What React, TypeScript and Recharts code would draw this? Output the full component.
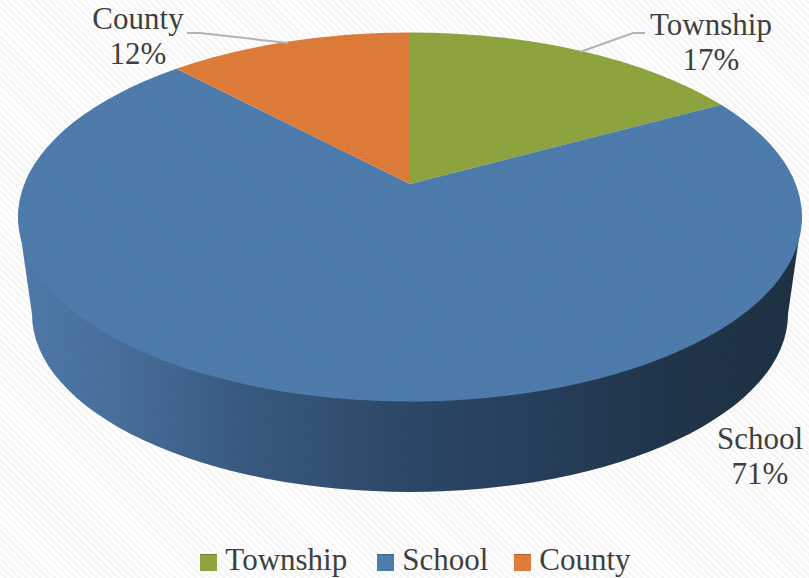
import { PieChart, Pie, Legend } from 'recharts';

const categories = ['Township', 'School', 'County'];
const shares = [17, 71, 12];
const colors = ['#8ea53f', '#4e7cad', '#df7c3a'];
const edgeColors = ['#6f8232', '#3c6087', '#b0622e'];

const W = 809;
const H = 578;
const FONT = '"Liberation Serif", serif';
const TEXT = '#3f3f3f';

// top face ellipse, and how far the apex sits above its middle (perspective)
const CX = 410;
const CY = 217;
const RX = 392;
const RY = 184.5;
const TILT = 0.179;

// bottom rim of the wall
const BOTTOM_CY = 314;
const BOTTOM_RX = 378;
const BOTTOM_RY = 178;

const wallStops = [
  { at: 0, color: '#4f7bab' },
  { at: 0.12, color: '#48709c' },
  { at: 0.3, color: '#38597f' },
  { at: 0.5, color: '#2c4868' },
  { at: 0.68, color: '#263e5a' },
  { at: 0.85, color: '#203448' },
  { at: 1, color: '#1f3245' },
];

const labelSpots = [
  { x: 711, y: 35, line: '580,52 633,33 645,33' },
  { x: 760, y: 449, line: '' },
  { x: 138, y: 29, line: '187,33 200,33 288,43' },
];

const legendGaps = [30, 26, 0];

const table = categories.map((name, i) => ({
  name,
  value: shares[i],
  fill: colors[i],
}));

// circle angle -> point on the tilted ellipse
function project(deg: number) {
  const a = (deg * Math.PI) / 180;
  const X = Math.cos(a);
  const Y = Math.sin(a);
  const d = 1 + TILT * Y;
  const px = (X * Math.sqrt(1 - TILT * TILT)) / d;
  const py = (Y + TILT) / d;
  return { x: CX + RX * px, y: CY - RY * py, angle: Math.atan2(py, px) };
}

function TiltedSector(props: any) {
  const { startAngle, endAngle, fill, name } = props;
  const p1 = project(startAngle);
  const p2 = project(endAngle);
  const apexY = CY - RY * TILT;
  let sweep = p1.angle - p2.angle;
  while (sweep < 0) sweep += Math.PI * 2;
  const large = sweep > Math.PI ? 1 : 0;
  const top = `M${CX},${apexY} L${p1.x},${p1.y} A${RX},${RY} 0 ${large} 1 ${p2.x},${p2.y} Z`;
  const wall =
    `M${CX - RX},${CY} L${CX - BOTTOM_RX},${BOTTOM_CY} ` +
    `A${BOTTOM_RX},${BOTTOM_RY} 0 0 0 ${CX + BOTTOM_RX},${BOTTOM_CY} L${CX + RX},${CY} Z`;
  return (
    <g>
      {name === 'School' && (
        <>
          <path d={wall} fill="url(#wallShade)" />
          <path d={wall} fill="url(#weave)" />
        </>
      )}
      <path d={top} fill={fill} />
      <path d={top} fill="url(#weave)" />
    </g>
  );
}

function renderLabel(props: any) {
  const { name, value } = props;
  const spot = labelSpots[categories.indexOf(name)];
  return (
    <g>
      {spot.line && (
        <polyline points={spot.line} fill="none" stroke="#b3b3b3" strokeWidth={2} />
      )}
      <text
        x={spot.x}
        y={spot.y}
        textAnchor="middle"
        fontFamily={FONT}
        fontSize={31}
        fill={TEXT}
      >
        {name}
      </text>
      <text
        x={spot.x}
        y={spot.y + 35}
        textAnchor="middle"
        fontFamily={FONT}
        fontSize={31}
        fill={TEXT}
      >
        {value}%
      </text>
    </g>
  );
}

function LegendRow({ payload }: any) {
  return (
    <div
      style={{
        display: 'flex',
        justifyContent: 'center',
        fontFamily: FONT,
        paddingLeft: 22,
      }}
    >
      {(payload ?? []).map((item: any, i: number) => (
        <div
          key={item.value}
          style={{
            display: 'flex',
            alignItems: 'center',
            marginRight: legendGaps[i],
            fontSize: 31,
            lineHeight: '36px',
            color: TEXT,
          }}
        >
          <span
            style={{
              width: 17,
              height: 16,
              marginRight: 8,
              marginTop: 5,
              background: item.color,
              borderTop: `1px solid ${edgeColors[categories.indexOf(item.value)]}`,
            }}
          />
          {item.value}
        </div>
      ))}
    </div>
  );
}

export default function App() {
  return (
    <div
      style={{
        position: 'absolute',
        left: 0,
        top: 0,
        width: W,
        height: H,
        background:
          'repeating-linear-gradient(45deg, #ffffff 0px, #ffffff 2.5px, #f6f6f6 2.5px, #f6f6f6 5px)',
      }}
    >
      <PieChart width={W} height={H} margin={{ top: 0, right: 0, bottom: 0, left: 0 }}>
        <defs>
          <linearGradient id="wallShade" x1="0" y1="0" x2="1" y2="0">
            {wallStops.map((s) => (
              <stop key={s.at} offset={s.at} stopColor={s.color} />
            ))}
          </linearGradient>
          <pattern
            id="weave"
            width="6"
            height="3"
            patternUnits="userSpaceOnUse"
            patternTransform="rotate(-8)"
          >
            <rect width="6" height="1" fill="#000000" fillOpacity={0.035} />
          </pattern>
        </defs>
        <Pie
          data={table}
          dataKey="value"
          nameKey="name"
          cx={CX}
          cy={CY}
          outerRadius={RX}
          startAngle={90}
          endAngle={-270}
          paddingAngle={0}
          stroke="none"
          shape={TiltedSector}
          label={renderLabel}
          labelLine={false}
          isAnimationActive={false}
        />
        <Legend
          content={LegendRow}
          itemSorter={null}
          wrapperStyle={{ position: 'absolute', left: 0, top: 542, width: W }}
        />
      </PieChart>
    </div>
  );
}
